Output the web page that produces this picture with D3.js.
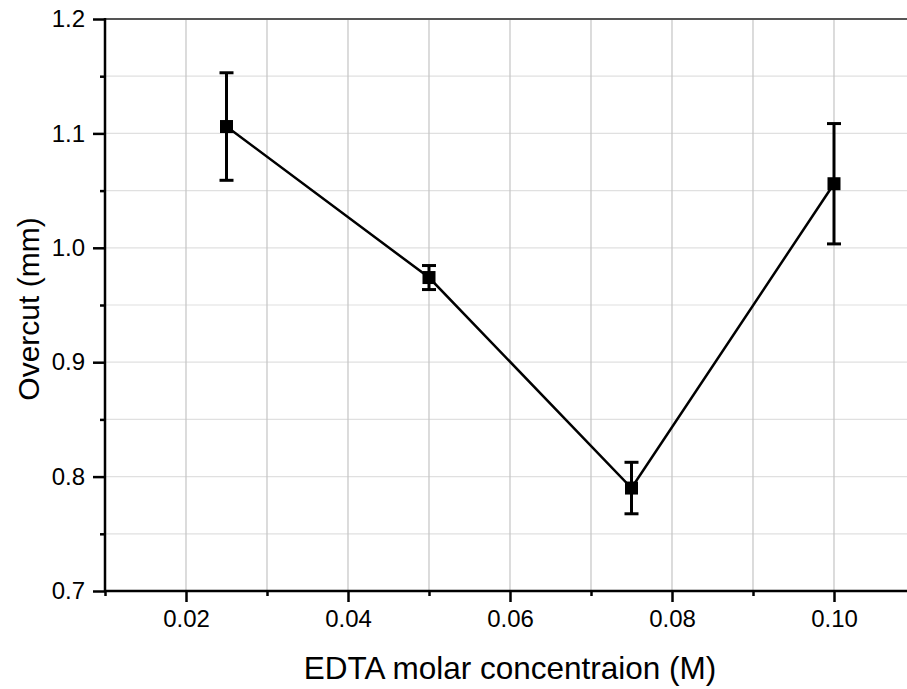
<!DOCTYPE html>
<html>
<head>
<meta charset="utf-8">
<script src="https://cdn.jsdelivr.net/npm/d3@7"></script>
<style>
  body { margin: 0; background: #fff; }
  text { font-family: "Liberation Sans", Arial, sans-serif; fill: #000; }
</style>
</head>
<body>
<div id="graph"></div>
<script>
// values
const concentration = [0.025, 0.05, 0.075, 0.10];
const overcut = [1.106, 0.974, 0.790, 1.056];
const overcutErr = [0.047, 0.0105, 0.0225, 0.0526];

const xMajorTicks = [0.02, 0.04, 0.06, 0.08, 0.10];
const xMinorTicks = [0.01, 0.03, 0.05, 0.07, 0.09];
const yMajorTicks = [0.7, 0.8, 0.9, 1.0, 1.1, 1.2];
const yMinorTicks = [0.75, 0.85, 0.95, 1.05, 1.15];

const xTitle = "EDTA molar concentraion (M)";
const yTitle = "Overcut (mm)";

const W = 907, H = 689;
const margin = {top: 19, left: 105};
const width = 810, height = 572;   // plot runs past the right edge of the page

var svg = d3.select("#graph").append("svg")
    .attr("width", W)
    .attr("height", H);

var xScale = d3.scaleLinear().domain([0.01, 0.11]).range([margin.left, margin.left + width]);
var yScale = d3.scaleLinear().domain([0.7, 1.2]).range([margin.top + height, margin.top]);

var points = concentration.map(function(c, i) {
    return {x: c, y: overcut[i], err: overcutErr[i]};
});

// grid
var grid = svg.append("g");
grid.selectAll(".hgrid")
    .data(yMajorTicks.concat(yMinorTicks).filter(function(v) { return v > 0.7 && v < 1.2; }))
    .enter().append("line")
    .attr("x1", margin.left).attr("x2", margin.left + width)
    .attr("y1", function(d) { return yScale(d); })
    .attr("y2", function(d) { return yScale(d); })
    .attr("stroke", "#e0e0e0").attr("stroke-width", 1.2);
grid.selectAll(".vgrid")
    .data(xMajorTicks.concat(xMinorTicks).filter(function(v) { return v > 0.01; }))
    .enter().append("line")
    .attr("x1", function(d) { return xScale(d); })
    .attr("x2", function(d) { return xScale(d); })
    .attr("y1", margin.top).attr("y2", margin.top + height)
    .attr("stroke", "#c4c4c4").attr("stroke-width", 1.2);

// top frame
svg.append("line")
    .attr("x1", margin.left).attr("x2", margin.left + width)
    .attr("y1", margin.top).attr("y2", margin.top)
    .attr("stroke", "#555").attr("stroke-width", 1.8);

// axes
var xAxis = d3.axisBottom(xScale).tickValues(xMajorTicks).tickSize(11).tickPadding(8)
    .tickFormat(d3.format(".2f"));
var xAxisMinor = d3.axisBottom(xScale).tickValues(xMinorTicks).tickSize(5).tickFormat("");
var yAxis = d3.axisLeft(yScale).tickValues(yMajorTicks).tickSize(12).tickPadding(8)
    .tickFormat(d3.format(".1f"));
var yAxisMinor = d3.axisLeft(yScale).tickValues(yMinorTicks).tickSize(5).tickFormat("");

function styleAxis(g) {
    g.select(".domain").remove();
    g.selectAll(".tick line").attr("stroke", "#000").attr("stroke-width", 2.5);
    g.selectAll(".tick text").style("font-size", "24px").attr("fill", "#000");
}

svg.append("g").attr("transform", "translate(0," + (margin.top + height) + ")")
    .call(xAxisMinor).call(styleAxis);
svg.append("g").attr("transform", "translate(0," + (margin.top + height) + ")")
    .call(xAxis).call(styleAxis);
svg.append("g").attr("transform", "translate(" + margin.left + ",0)")
    .call(yAxisMinor).call(styleAxis);
svg.append("g").attr("transform", "translate(" + margin.left + ",0)")
    .call(yAxis).call(styleAxis);

// axis lines
svg.append("line")
    .attr("x1", margin.left - 1).attr("x2", margin.left + width)
    .attr("y1", margin.top + height).attr("y2", margin.top + height)
    .attr("stroke", "#000").attr("stroke-width", 2.5);
svg.append("line")
    .attr("x1", margin.left).attr("x2", margin.left)
    .attr("y1", margin.top - 1).attr("y2", margin.top + height + 1)
    .attr("stroke", "#000").attr("stroke-width", 2.5);

// axis titles
svg.append("text")
    .attr("x", margin.left + width / 2)
    .attr("y", 679)
    .attr("text-anchor", "middle")
    .style("font-size", "31.5px")
    .text(xTitle);
svg.append("text")
    .attr("transform", "translate(39," + (margin.top + height / 2 + 4) + ") rotate(-90)")
    .attr("text-anchor", "middle")
    .style("font-size", "30px")
    .text(yTitle);

// connecting line
var line = d3.line()
    .x(function(d) { return xScale(d.x); })
    .y(function(d) { return yScale(d.y); });
svg.append("path")
    .datum(points)
    .attr("d", line)
    .attr("fill", "none")
    .attr("stroke", "#000")
    .attr("stroke-width", 2.5);

// error bars
var eb = svg.append("g").selectAll("g").data(points).enter().append("g");
eb.append("line")
    .attr("x1", function(d) { return xScale(d.x); })
    .attr("x2", function(d) { return xScale(d.x); })
    .attr("y1", function(d) { return yScale(d.y + d.err); })
    .attr("y2", function(d) { return yScale(d.y - d.err); })
    .attr("stroke", "#000").attr("stroke-width", 3);
[1, -1].forEach(function(s) {
    eb.append("line")
        .attr("x1", function(d) { return xScale(d.x) - 7; })
        .attr("x2", function(d) { return xScale(d.x) + 7; })
        .attr("y1", function(d) { return yScale(d.y + s * d.err); })
        .attr("y2", function(d) { return yScale(d.y + s * d.err); })
        .attr("stroke", "#000").attr("stroke-width", 3);
});

// markers
svg.append("g").selectAll("rect").data(points).enter().append("rect")
    .attr("x", function(d) { return xScale(d.x) - 6.5; })
    .attr("y", function(d) { return yScale(d.y) - 6.5; })
    .attr("width", 13).attr("height", 13)
    .attr("fill", "#000");
</script>
</body>
</html>
